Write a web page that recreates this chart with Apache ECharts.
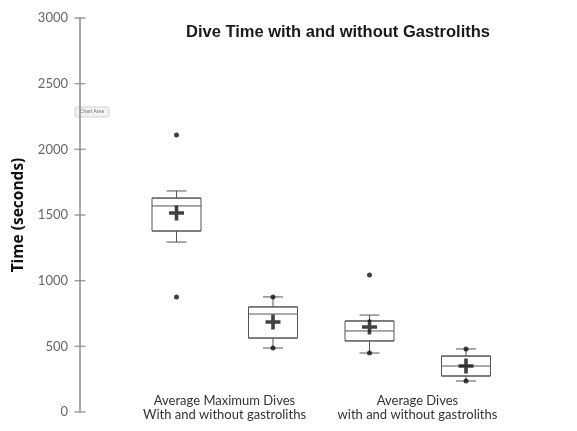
<!DOCTYPE html>
<html>
<head>
<meta charset="utf-8">
<script src="https://cdn.jsdelivr.net/npm/echarts@6/dist/echarts.min.js"></script>
<style>
html,body{margin:0;padding:0;background:#fff;}
#chart{width:577px;height:431px;}
</style>
</head>
<body>
<div id="chart"></div>
<script>
// ---- data ----
var categories = ['Max with', 'Max without', 'Avg with', 'Avg without'];
var boxMin    = [1294, 487, 449, 236];
var boxQ1     = [1378, 563, 541, 274];
var boxMedian = [1569, 746, 617, 350];
var boxQ3     = [1629, 800, 693, 426];
var boxMax    = [1683, 876, 738, 480];
var means     = [1515, 685, 647, 350];
var outlierCat = [0, 0, 2];
var outlierVal = [2109, 876, 1043];
var endPointCat = [1, 1, 2, 3, 3];
var endPointVal = [876, 487, 449, 480, 236];
var yTicks = [0, 500, 1000, 1500, 2000, 2500, 3000];
var title = 'Dive Time with and without Gastroliths';
var yName = 'Time (seconds)';
var groupLabels = ['Average Maximum Dives\nWith and without gastroliths', 'Average Dives\nwith and without gastroliths'];

// ---- build ----
var cats = [''].concat(categories);
var narrow = categories.map(function (c, i) {
  return [boxMin[i], boxMedian[i], boxMedian[i], boxMedian[i], boxMax[i]];
});
var wide = categories.map(function (c, i) {
  return [boxQ1[i], boxQ1[i], boxMedian[i], boxQ3[i], boxQ3[i]];
});
var meanData = categories.map(function (c, i) { return [categories[i], means[i]]; });
var outData = outlierCat.map(function (c, i) { return [categories[c], outlierVal[i]]; });
var endData = endPointCat.map(function (c, i) { return [categories[c], endPointVal[i]]; });
var tickData = yTicks.map(function (v) { return ['', v]; });

var chart = echarts.init(document.getElementById('chart'), null, {renderer: 'canvas'});
var labelFont = 'Lato, "Open Sans", sans-serif';
var xAxisBase = {
  type: 'category', data: cats, boundaryGap: false,
  axisLine: {show: false}, axisTick: {show: false}, axisLabel: {show: false}, splitLine: {show: false}
};
var yMin = yTicks[0], yMax = yTicks[yTicks.length - 1], yInt = yTicks[1] - yTicks[0];
chart.setOption({
  backgroundColor: '#fff',
  animation: false,
  title: {
    text: title, left: 333, top: 19, textAlign: 'center',
    textStyle: {fontFamily: '"Liberation Sans", Arial, sans-serif', fontSize: 16.5, fontWeight: 'bold', color: '#1a1a1a'}
  },
  grid: {left: 80, right: 111, top: 18, bottom: 19, containLabel: false},
  xAxis: [
    Object.assign({gridIndex: 0}, xAxisBase),
    Object.assign({gridIndex: 0}, xAxisBase)
  ],
  yAxis: {
    type: 'value', position: 'left', min: yMin, max: yMax, interval: yInt,
    name: yName, nameLocation: 'middle', nameGap: 45,
    nameTextStyle: {fontFamily: '"Open Sans", Lato, sans-serif', fontSize: 15.5, fontWeight: 'bold', color: '#111'},
    axisLine: {show: true, lineStyle: {color: '#8a8a8a', width: 1.5}},
    axisTick: {show: false},
    axisLabel: {fontFamily: labelFont, fontSize: 13, color: '#666', margin: 12, formatter: function (v) { return String(v); }},
    splitLine: {show: false}
  },
  series: [
    {
      // cross-shaped tick marks on the value axis
      type: 'scatter', xAxisIndex: 0, yAxisIndex: 0,
      data: tickData, symbol: 'rect', symbolSize: [11, 1.5],
      itemStyle: {color: '#8a8a8a'}, silent: true, z: 1
    },
    {
      type: 'boxplot', xAxisIndex: 0, yAxisIndex: 0,
      data: [null].concat(narrow).map(function (d) { return d || '-'; }),
      boxWidth: [20, 20],
      itemStyle: {color: '#fff', borderColor: '#555', borderWidth: 1},
      z: 2
    },
    {
      type: 'boxplot', xAxisIndex: 1, yAxisIndex: 0,
      data: [null].concat(wide).map(function (d) { return d || '-'; }),
      boxWidth: [49, 49],
      itemStyle: {color: '#fff', borderColor: '#555', borderWidth: 1},
      z: 3
    },
    {
      type: 'scatter', xAxisIndex: 0, yAxisIndex: 0,
      data: outData.concat(endData),
      symbol: 'circle', symbolSize: 5,
      itemStyle: {color: '#111'},
      z: 4
    },
    {
      type: 'scatter', xAxisIndex: 0, yAxisIndex: 0,
      data: meanData,
      symbol: 'path://M3.8,0H6.2V3.8H10V6.2H6.2V10H3.8V6.2H0V3.8H3.8Z', symbolSize: 15,
      itemStyle: {color: '#111'},
      z: 5
    }
  ],
  graphic: [
    {
      type: 'text', x: 224.5, y: 394,
      style: {text: groupLabels[0], fontFamily: labelFont, fontSize: 13, fill: '#333', align: 'center', lineHeight: 14}
    },
    {
      type: 'text', x: 417.5, y: 394,
      style: {text: groupLabels[1], fontFamily: labelFont, fontSize: 13, fill: '#333', align: 'center', lineHeight: 14}
    },
    {
      type: 'group', x: 75, y: 107,
      children: [
        {type: 'rect', shape: {x: 0, y: 0, width: 34, height: 10, r: 2}, style: {fill: '#f2f2f2', stroke: '#c8c8c8', lineWidth: 0.8}},
        {type: 'text', style: {x: 17, y: 5, text: 'Chart Area', fontSize: 5, fill: '#777', align: 'center', verticalAlign: 'middle', fontFamily: 'sans-serif'}}
      ]
    }
  ]
});
</script>
</body>
</html>
